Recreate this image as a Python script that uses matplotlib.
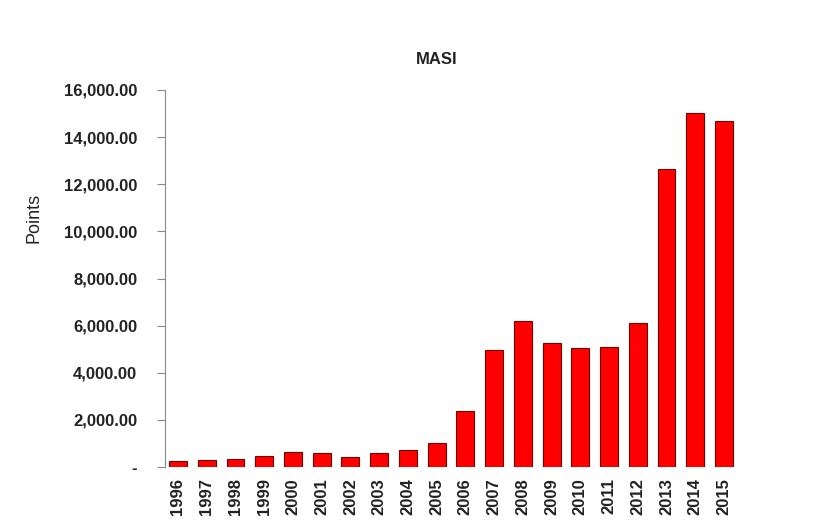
import matplotlib
matplotlib.use("Agg")
import matplotlib.pyplot as plt
from matplotlib.ticker import FuncFormatter

years = ["1996", "1997", "1998", "1999", "2000", "2001", "2002", "2003", "2004", "2005",
         "2006", "2007", "2008", "2009", "2010", "2011", "2012", "2013", "2014", "2015"]
values = [240, 280, 360, 450, 630, 580, 420, 590, 710, 1020,
          2380, 4950, 6200, 5260, 5030, 5110, 6110, 12650, 15020, 14690]
yticks = [0, 2000, 4000, 6000, 8000, 10000, 12000, 14000, 16000]

plt.rcParams['font.family'] = ['Liberation Sans', 'DejaVu Sans']

fig = plt.figure(figsize=(8.31, 5.27), dpi=100)
ax = fig.add_axes([165/831, 60/527, 572/831, 377/527])

x = list(range(len(years)))
ax.bar(x, values, width=0.62, color='#ff0000', edgecolor='#7a0000', linewidth=0.8)

ax.set_xlim(-0.45, len(years) - 0.55)
ax.set_ylim(0, 16000)
ax.set_yticks(yticks)
ax.yaxis.set_major_formatter(FuncFormatter(lambda v, p: '-' if v == 0 else f'{v:,.2f}'))
ax.set_xticks(x)
ax.set_xticklabels(years, rotation=90, fontsize=12, fontweight='bold', color='#222222')
for lab in ax.get_yticklabels():
    lab.set_fontsize(12)
    lab.set_fontweight('bold')
    lab.set_color('#222222')

for s in ['top', 'right', 'bottom']:
    ax.spines[s].set_visible(False)
ax.spines['left'].set_color('#888888')
ax.tick_params(axis='y', direction='out', length=6, color='#888888', pad=14)
ax.tick_params(axis='x', length=0, pad=8)

fig.text(34/831, 1 - 218/527, 'Points', rotation=90, fontsize=13, color='#222222',
         ha='center', va='center')
fig.text(437/831, 1 - 60/527, 'MASI', fontsize=12, fontweight='bold', color='#222222',
         ha='center', va='center')

fig.savefig('out.png', dpi=100, facecolor='white')
